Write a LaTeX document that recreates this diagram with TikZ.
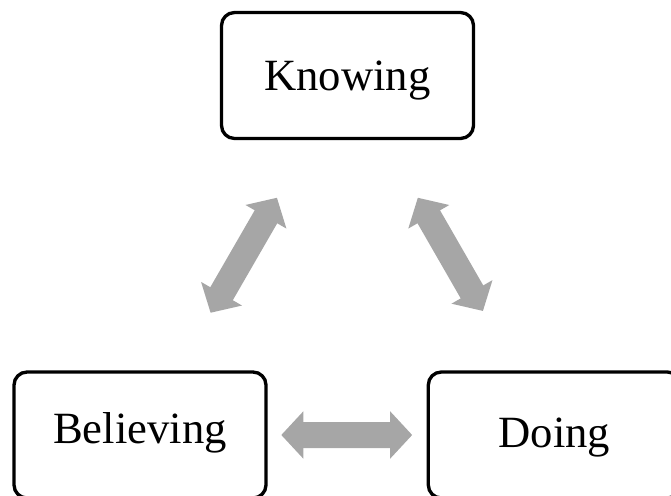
\documentclass[tikz,border=0pt]{standalone}
\usepackage{fontspec}
\setmainfont{Liberation Serif}
\usetikzlibrary{calc,arrows.meta}
\definecolor{arrowgray}{RGB}{166,166,166}
\tikzset{
  stage/.style={draw=black, line width=2.5pt, rounded corners=9.75pt,
    minimum width=189pt, minimum height=94.5pt, inner sep=0pt,
    font=\fontsize{33.5pt}{40pt}\selectfont, text height=22.1pt, text depth=0pt},
  link/.style={draw=arrowgray, line width=19.5pt,
    {Triangle[length=16.5pt,width=34.5pt]}-{Triangle[length=16.5pt,width=34.5pt]}}
}
\begin{document}
\begin{tikzpicture}[x=0.75pt,y=-0.75pt]
  \useasboundingbox (0,0) rectangle (671,496);
  \node[stage] (K) at (347.5,75.5) {Knowing};
  \node[stage] (B) at (140,435) {\raisebox{4.5pt}{Believing}};
  \node[stage] (D) at (554.3,435) {\raisebox{1.5pt}{Doing}};
  \draw[link] ($(B)!0.34!(K)$) -- ($(B)!0.66!(K)$);
  \draw[link] ($(K)!0.34!(D)$) -- ($(K)!0.655!(D)$);
  \draw[link] ($(B)!0.341!(D)$) -- ($(B)!0.657!(D)$);
\end{tikzpicture}
\end{document}
